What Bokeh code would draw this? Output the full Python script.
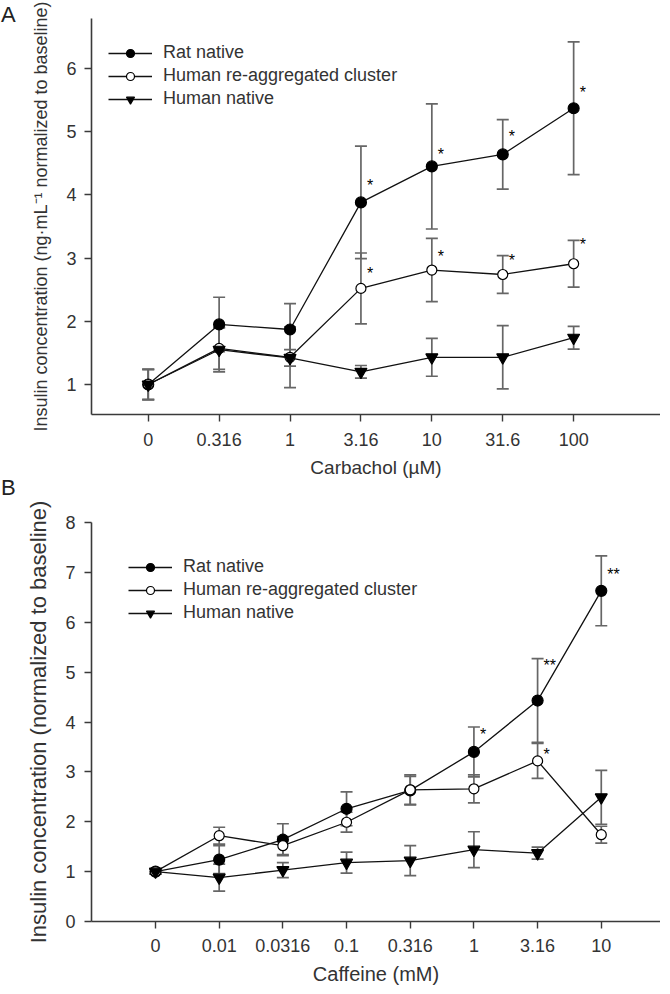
from bokeh.plotting import figure
from bokeh.layouts import column
from bokeh.models import (ColumnDataSource, Whisker, TeeHead, FixedTicker, Legend,
                          LegendItem, Range1d, Div)
from bokeh.core.properties import value
from bokeh.embed import file_html
from bokeh.resources import INLINE

FONT = "Liberation Sans"
TXT = "#333333"

# ---------------- Panel A data (Carbachol) ----------------
cats_a = ["0", "0.316", "1", "3.16", "10", "31.6", "100"]
rat_a = [1.0, 1.95, 1.87, 3.88, 4.45, 4.64, 5.37]
rat_a_err = [0.24, 0.43, 0.41, 0.89, 0.99, 0.55, 1.05]
hra_a = [1.0, 1.57, 1.43, 2.52, 2.81, 2.74, 2.91]
hra_a_err = [0.24, 0.33, 0.48, 0.56, 0.50, 0.30, 0.37]
hn_a = [1.0, 1.55, 1.42, 1.20, 1.43, 1.43, 1.74]
hn_a_err = [0.24, 0.35, 0.13, 0.10, 0.30, 0.50, 0.18]
star_a_x = ["3.16", "10", "31.6", "100", "3.16", "10", "31.6", "100"]
star_a_y = [4.18, 4.67, 4.96, 5.65, 2.79, 3.06, 2.99, 3.25]
star_a_txt = ["*", "*", "*", "*", "*", "*", "*", "*"]
yticks_a = [1, 2, 3, 4, 5, 6]

# ---------------- Panel B data (Caffeine) ----------------
cats_b = ["0", "0.01", "0.0316", "0.1", "0.316", "1", "3.16", "10"]
rat_b = [1.0, 1.24, 1.64, 2.26, 2.63, 3.40, 4.43, 6.63]
rat_b_err = [0.05, 0.28, 0.32, 0.34, 0.28, 0.50, 0.84, 0.70]
hra_b = [1.0, 1.72, 1.52, 1.99, 2.64, 2.66, 3.22, 1.74]
hra_b_err = [0.05, 0.17, 0.18, 0.20, 0.30, 0.28, 0.35, 0.17]
hn_b = [1.0, 0.88, 1.03, 1.18, 1.22, 1.44, 1.37, 2.49]
hn_b_err = [0.05, 0.27, 0.15, 0.21, 0.30, 0.36, 0.12, 0.54]
star_b_x = ["1", "3.16", "10", "3.16"]
star_b_y = [3.79, 5.17, 6.99, 3.39]
star_b_txt = ["*", "**", "**", "*"]
yticks_b = [0, 1, 2, 3, 4, 5, 6, 7, 8]

series_names = ["Rat native", "Human re-aggregated cluster", "Human native"]


def make_panel(cats, series, errs, stars, yticks, xr, yr, width, height,
               borders, xlabel, ylabel, fonts, legend_loc):
    p = figure(width=width, height=height, output_backend="svg", toolbar_location=None,
               x_range=Range1d(*xr), y_range=Range1d(*yr),
               min_border_left=borders[0], min_border_right=borders[1],
               min_border_top=borders[2], min_border_bottom=borders[3])
    p.outline_line_color = None
    p.grid.visible = False
    p.background_fill_color = "white"
    p.border_fill_color = None

    xs = list(range(len(cats)))
    items = []
    markers = [("circle", "black"), ("circle", "white"), ("inverted_triangle", "black")]
    sizes = [11, 10, 12]
    for k, (vals, err) in enumerate(zip(series, errs)):
        src = ColumnDataSource(dict(x=xs, y=vals,
                                    lo=[v - e for v, e in zip(vals, err)],
                                    hi=[v + e for v, e in zip(vals, err)]))
        w = Whisker(source=src, base="x", lower="lo", upper="hi",
                    line_color="#666666", line_width=1.7, level="underlay",
                    upper_head=TeeHead(size=12, line_color="#666666", line_width=1.7),
                    lower_head=TeeHead(size=12, line_color="#666666", line_width=1.7))
        p.add_layout(w)
        lr = p.line("x", "y", source=src, line_color="#111111", line_width=1.3)
        m, fc = markers[k]
        sr = p.scatter("x", "y", source=src, marker=m, size=sizes[k],
                       fill_color=fc, line_color="black", line_width=1.2)
        items.append(LegendItem(label=series_names[k], renderers=[lr, sr]))

    sx, sy, st = stars
    ssrc = ColumnDataSource(dict(x=[cats.index(c) for c in sx], y=sy, t=st))
    p.text("x", "y", text="t", source=ssrc, text_font=value(FONT), text_font_size="16px",
           text_align="left", text_baseline="alphabetic", x_offset=6, y_offset=2,
           text_color="black")

    leg = Legend(items=items, location=legend_loc, glyph_width=44, glyph_height=20,
                 label_height=20, label_standoff=11, spacing=2, padding=0, margin=0,
                 border_line_color=None, background_fill_alpha=0,
                 label_text_font=FONT, label_text_font_size=fonts["legend"],
                 label_text_color=TXT)
    p.add_layout(leg)

    xa = p.xaxis[0]
    xa.ticker = FixedTicker(ticks=xs)
    xa.major_label_overrides = {i: c for i, c in enumerate(cats)}
    ya = p.yaxis[0]
    ya.ticker = FixedTicker(ticks=yticks)
    for ax in (xa, ya):
        ax.minor_tick_line_color = None
        ax.axis_line_color = "#3a3a3a"
        ax.axis_line_width = 1.6
        ax.major_tick_line_color = "#3a3a3a"
        ax.major_tick_line_width = 1.4
        ax.major_tick_in = 0
        ax.major_tick_out = 7
        ax.major_label_text_font = FONT
        ax.major_label_text_font_size = fonts["tick"]
        ax.major_label_text_color = TXT
        ax.axis_label_text_font = FONT
        ax.axis_label_text_font_style = "normal"
        ax.axis_label_text_color = TXT
    xa.axis_label = xlabel
    xa.axis_label_text_font_size = fonts["xlabel"]
    xa.major_label_standoff = fonts["xstand"]
    xa.axis_label_standoff = fonts["xlstand"]
    ya.axis_label = ylabel
    ya.axis_label_text_font_size = fonts["ylabel"]
    ya.major_label_standoff = fonts["ystand"]
    ya.axis_label_standoff = fonts["ylstand"]
    return p


def letter(txt, margin):
    return Div(text=txt, width=30, height=26, margin=margin,
               styles={"font-family": FONT, "font-size": "22px", "color": "#222222",
                       "line-height": "1"})


pA = make_panel(cats_a, [rat_a, hra_a, hn_a], [rat_a_err, hra_a_err, hn_a_err],
                (star_a_x, star_a_y, star_a_txt), yticks_a,
                xr=(-0.8, 7.225), yr=(0.525, 6.79), width=660, height=483,
                borders=(90, 0, 18, 69),
                xlabel="Carbachol (\u00b5M)",
                ylabel="Insulin concentration (ng\u00b7mL\u207b\u00b9 normalized to baseline)",
                fonts=dict(tick="18px", xlabel="19px", ylabel="18px", legend="18px",
                           xstand=11, xlstand=8, ystand=8, ylstand=12),
                legend_loc=(17, 305))

pB = make_panel(cats_b, [rat_b, hra_b, hn_b], [rat_b_err, hra_b_err, hn_b_err],
                (star_b_x, star_b_y, star_b_txt), yticks_b,
                xr=(-1.005, 7.93), yr=(0, 8), width=660, height=507,
                borders=(91, 0, 39, 69),
                xlabel="Caffeine (mM)",
                ylabel="Insulin concentration (normalized to baseline)",
                fonts=dict(tick="18px", xlabel="20px", ylabel="22px", legend="18px",
                           xstand=10, xlstand=8, ystand=9, ylstand=11),
                legend_loc=(37, 298))

divA = letter("A", (4, 0, -30, 1))
divB = letter("B", (-6, 0, -20, 1))

layout = column(divA, pA, divB, pB, spacing=0)
open("out.html", "w").write(file_html(layout, INLINE))
